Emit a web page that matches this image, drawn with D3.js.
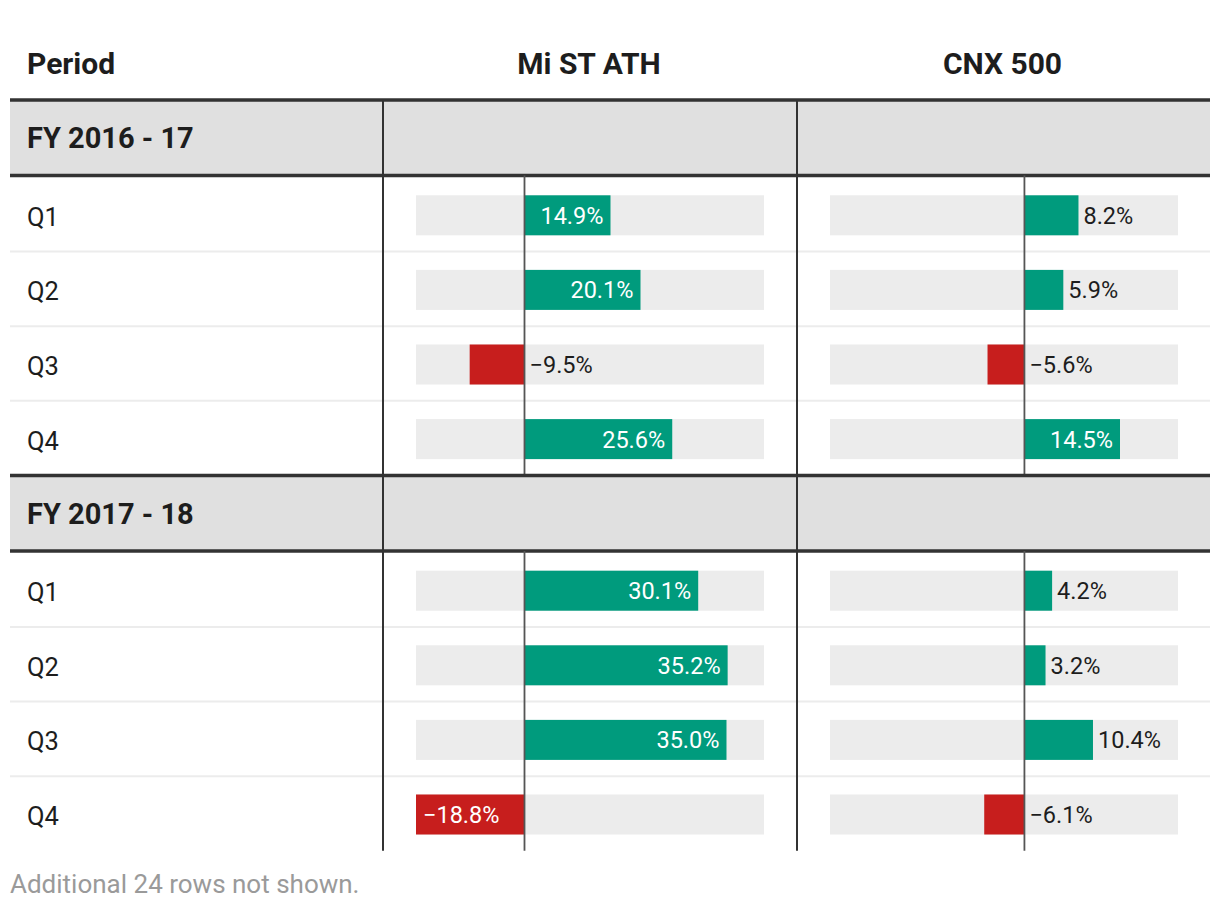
<!DOCTYPE html>
<html>
<head>
<meta charset="utf-8">
<script src="https://cdn.jsdelivr.net/npm/d3@7"></script>
<style>
  html, body { margin: 0; padding: 0; background: #fff; }
  svg { display: block; font-family: Roboto, "Noto Sans", sans-serif; }
</style>
</head>
<body>
<svg id="chart" width="1220" height="910"></svg>
<script>
// ---- data ----
const columns = ["Period", "Mi ST ATH", "CNX 500"];
const groups = ["FY 2016 - 17", "FY 2017 - 18"];
const quarters = ["Q1", "Q2", "Q3", "Q4"];
const miStAth = [[14.9, 20.1, -9.5, 25.6], [30.1, 35.2, 35.0, -18.8]];
const cnx500 = [[8.2, 5.9, -5.6, 14.5], [4.2, 3.2, 10.4, -6.1]];
const footnote = "Additional 24 rows not shown.";

// ---- layout ----
const svg = d3.select("#chart");
const left = 10, right = 1210;
const colX = [10, 383, 797, 1210];
const groupH = 75.5, rowH = 74.6;
const headerTop = 100;
const green = "#009b7d", red = "#c71e1d";
const ink = "#1d1d1d";

const scales = [
  d3.scaleLinear().domain([-18.8, 41.5]).range([416, 764]),
  d3.scaleLinear().domain([-29.5, 23.3]).range([830, 1178])
];
const seriesData = [miStAth, cnx500];

// header
svg.append("text").attr("x", 27).attr("y", 74).text(columns[0])
  .attr("font-size", 30).attr("font-weight", 700).attr("fill", ink);
[1, 2].forEach(i => {
  svg.append("text").attr("x", (colX[i] + colX[i + 1]) / 2 - 1).attr("y", 74)
    .attr("text-anchor", "middle").text(columns[i])
    .attr("font-size", 30).attr("font-weight", 700).attr("fill", ink);
});

let y = headerTop;
const lines = svg.append("g");
groups.forEach((g, gi) => {
  // group header
  svg.append("rect").attr("x", left).attr("y", y).attr("width", right - left).attr("height", groupH)
    .attr("fill", "#e0e0e0");
  svg.append("text").attr("x", 27).attr("y", y + groupH / 2 + 10.5).text(g)
    .attr("font-size", 29).attr("font-weight", 700).attr("fill", ink);
  lines.append("line").attr("x1", left).attr("x2", right).attr("y1", y).attr("y2", y)
    .attr("stroke", "#333").attr("stroke-width", 3.5);
  lines.append("line").attr("x1", left).attr("x2", right).attr("y1", y + groupH).attr("y2", y + groupH)
    .attr("stroke", "#333").attr("stroke-width", 3.5);
  [1, 2].forEach(i => {
    lines.append("line").attr("x1", colX[i]).attr("x2", colX[i]).attr("y1", y).attr("y2", y + groupH)
      .attr("stroke", "#333").attr("stroke-width", 2);
  });
  y += groupH + 1.5;
  const bodyTop = y - 1.5;
  quarters.forEach((q, qi) => {
    const cy = y + rowH / 2 + 1;
    if (qi > 0) {
      svg.append("line").attr("x1", left).attr("x2", right).attr("y1", y).attr("y2", y)
        .attr("stroke", "#ececec").attr("stroke-width", 2);
    }
    svg.append("text").attr("x", 27).attr("y", cy + 10.5).text(q)
      .attr("font-size", 25.5).attr("fill", ink);
    scales.forEach((sc, si) => {
      const v = seriesData[si][gi][qi];
      const [r0, r1] = sc.range();
      svg.append("rect").attr("x", r0).attr("y", cy - 20).attr("width", r1 - r0).attr("height", 40)
        .attr("fill", "#ececec");
      const x0 = sc(0), xv = sc(v);
      const bx = Math.min(x0, xv), bw = Math.abs(xv - x0);
      svg.append("rect").attr("x", bx).attr("y", cy - 20).attr("width", bw).attr("height", 40)
        .attr("fill", v >= 0 ? green : red);
      const label = (v < 0 ? "\u2212" : "") + Math.abs(v).toFixed(1) + "%";
      const t = svg.append("text").attr("y", cy + 8.5).text(label).attr("font-size", 23.5);
      const tw = t.node().getComputedTextLength();
      if (bw > tw + 12) {
        t.attr("fill", "#fff");
        if (v >= 0) t.attr("x", xv - 7).attr("text-anchor", "end");
        else t.attr("x", xv + 7).attr("text-anchor", "start");
      } else {
        t.attr("fill", ink).attr("text-anchor", "start");
        t.attr("x", v >= 0 ? xv + 5 : x0 + 5);
      }
    });
    y += rowH;
  });
  // vertical lines in body
  [1, 2].forEach(i => {
    lines.append("line").attr("x1", colX[i]).attr("x2", colX[i]).attr("y1", bodyTop).attr("y2", y)
      .attr("stroke", "#333").attr("stroke-width", 2);
  });
  scales.forEach(sc => {
    lines.append("line").attr("x1", sc(0)).attr("x2", sc(0)).attr("y1", bodyTop).attr("y2", y)
      .attr("stroke", "#555").attr("stroke-width", 1.8);
  });
});
lines.raise();

svg.append("text").attr("x", 10).attr("y", 893).text(footnote)
  .attr("font-size", 26).attr("fill", "#9a9a9a");
</script>
</body>
</html>
